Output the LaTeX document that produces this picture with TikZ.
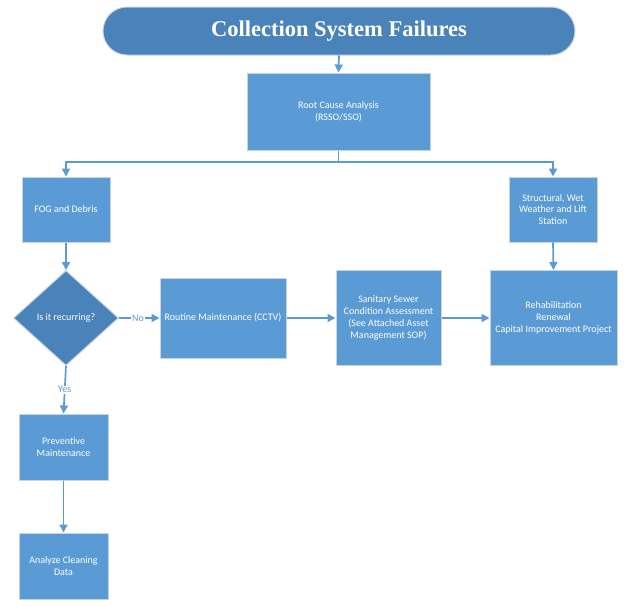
\documentclass[tikz,border=0pt]{standalone}
\usepackage{fontspec}
\setmainfont{Carlito}
\newfontfamily\titlefont{Liberation Serif}
\usetikzlibrary{shapes.geometric,arrows.meta}
\definecolor{boxblue}{HTML}{5B9BD5}
\definecolor{darkblue}{HTML}{4A82BA}
\definecolor{edgegray}{HTML}{C8D4E0}
\definecolor{lineblue}{HTML}{5B9BD5}
\tikzset{
  stepbox/.style={rectangle, fill=boxblue, draw=edgegray, line width=1pt, text=white, align=center, font=\fontsize{10}{11.8}\selectfont, inner sep=2pt},
  decide/.style={diamond, fill=darkblue, draw=edgegray, line width=1pt, text=white, align=center, font=\fontsize{10}{11.8}\selectfont, inner sep=0pt},
  conn/.style={draw=lineblue, line width=1.7pt, -{Triangle[length=8pt,width=8pt]}},
  lbl/.style={fill=white, text=lineblue, font=\fontsize{10}{11}\selectfont, inner sep=1pt}
}
\begin{document}
\begin{tikzpicture}[x=1pt,y=-1pt]
\useasboundingbox (0,0) rectangle (624,606);
\node[rectangle, rounded corners=24pt, fill=darkblue, draw=edgegray, line width=1pt, minimum width=472pt, minimum height=48pt, text=white, font=\titlefont\bfseries\fontsize{22.5}{25}\selectfont] (title) at (339,31) {Collection System Failures};
\node[stepbox, minimum width=183pt, minimum height=77pt] (root) at (338.5,111.5) {Root Cause Analysis\\(RSSO/SSO)};
\node[stepbox, minimum width=88pt, minimum height=65pt] (fog) at (66,209.5) {FOG and Debris};
\node[stepbox, minimum width=88pt, minimum height=65pt] (struct) at (553,209.5) {Structural, Wet\\Weather and Lift\\Station};
\node[decide, minimum width=105pt, minimum height=95pt, shape aspect=1.1] (dec) at (66,318) {};
\node[text=white, font=\fontsize{10}{11.8}\selectfont] at (dec.center) {Is it recurring?};
\node[stepbox, minimum width=126pt, minimum height=80pt] (routine) at (223,318) {Routine Maintenance (CCTV)};
\node[stepbox, minimum width=105pt, minimum height=95pt] (san) at (388.5,318) {Sanitary Sewer\\Condition Assessment\\(See Attached Asset\\Management SOP)};
\node[stepbox, minimum width=127pt, minimum height=95pt] (rehab) at (553.5,318) {Rehabilitation\\Renewal\\Capital Improvement Project};
\node[stepbox, minimum width=89pt, minimum height=66pt] (prev) at (63.5,447) {Preventive\\Maintenance};
\node[stepbox, minimum width=89pt, minimum height=66pt] (anal) at (63.5,566) {Analyze Cleaning\\Data};
\coordinate (split) at (338.5,162);
\draw[conn] (title.south) -- (root.north);
\draw[conn] (root.south) -- (split) -| (fog.north);
\draw[conn] (split) -| (struct.north);
\draw[conn] (fog.south) -- (dec.north);
\draw[conn] (dec.east) -- node[lbl, pos=0.47] {No} (routine.west);
\draw[conn] (routine.east) -- (san.west);
\draw[conn] (san.east) -- (rehab.west);
\draw[conn] (struct.south) -- (rehab.north);
\draw[conn] (dec.south) -- node[lbl, pos=0.5] {Yes} (prev.north);
\draw[conn] (prev.south) -- (anal.north);
\end{tikzpicture}
\end{document}
